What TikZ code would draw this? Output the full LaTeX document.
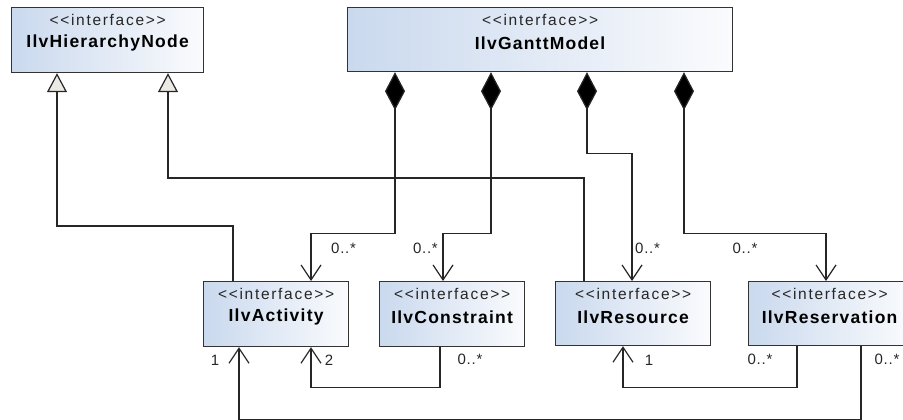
\documentclass[tikz,border=0pt]{standalone}
\usepackage{fontspec}
\setmainfont{Liberation Sans}
\usetikzlibrary{arrows.meta,calc}

\definecolor{ifaceblue}{RGB}{202,217,238}
\definecolor{ifacewhite}{RGB}{250,251,253}
\definecolor{genfill}{RGB}{236,234,228}

\tikzset{
  iface/.style={draw=black!80, line width=1.2pt, anchor=north west, inner sep=0pt,
    left color=ifaceblue, right color=ifacewhite},
  stereo/.style={font=\fontsize{15.5}{15.5}\selectfont\addfontfeature{LetterSpace=11},
    text=black!85, inner sep=0pt},
  cname/.style={font=\fontsize{17.5}{17.5}\selectfont\bfseries\addfontfeature{LetterSpace=7},
    inner sep=0pt},
  mult/.style={font=\fontsize{15}{15}\selectfont\addfontfeature{LetterSpace=5},
    text=black!85, inner sep=0pt},
  conn/.style={draw=black!85, line width=1.2pt},
  comp/.style={conn, {Diamond[length=38pt,width=20pt,fill=black]}-{Straight Barb[length=15pt,width=20pt,line width=1.2pt]}},
  assoc/.style={conn, -{Straight Barb[length=15pt,width=20pt,line width=1.2pt]}},
  gen/.style={conn, -{Triangle[length=19pt,width=20pt,fill=genfill,line width=1.2pt]}},
}

\begin{document}
\begin{tikzpicture}[x=1pt,y=-1pt]
\useasboundingbox (0,0) rectangle (903,420);
\begin{scope}
\clip (0,0) rectangle (903,420);

% interface boxes
\node[iface, minimum width=192pt, minimum height=65pt] (hier) at (11,7) {};
\node[iface, minimum width=385pt, minimum height=64pt] (gantt) at (347,7) {};
\node[iface, minimum width=145pt, minimum height=65pt] (act) at (203,281) {};
\node[iface, minimum width=145pt, minimum height=65pt] (cons) at (379,281) {};
\node[iface, minimum width=155pt, minimum height=64pt] (res) at (555,281) {};
\node[iface, minimum width=162pt, minimum height=64pt] (resv) at (748,281) {};

% stereotypes and names
\foreach \b/\n in {hier/IlvHierarchyNode, gantt/IlvGanttModel, act/IlvActivity,
                   cons/IlvConstraint, res/IlvResource, resv/IlvReservation}{
  \node[stereo] (\b-st) at ($(\b.north)+(0,13)$) {<{}<interface>{}>};
  \node[cname] (\b-nm) at ($(\b.north)+(0,36)$) {\n};
}

% compositions from IlvGanttModel
\draw[comp] ([xshift=48pt]gantt.south west) -- ++(0,161) -| ([xshift=108pt]act.north west);
\draw[comp] ([xshift=144pt]gantt.south west) -- ++(0,161) -| ([xshift=64pt]cons.north west);
\draw[comp] ([xshift=240pt]gantt.south west) -- ++(0,81) -| ([xshift=77pt]res.north west);
\draw[comp] ([xshift=337pt]gantt.south west) -- ++(0,161) -| ([xshift=78pt]resv.north west);

% generalizations to IlvHierarchyNode
\draw[gen] ([xshift=30pt]act.north west) -- ++(0,-55) -| ([xshift=46pt]hier.south west);
\draw[gen] ([xshift=29pt]res.north west) -- ++(0,-103) -| ([xshift=157pt]hier.south west);

% associations along the bottom
\draw[assoc] ([xshift=61pt]cons.south west) -- ++(0,40) -| ([xshift=108pt]act.south west);
\draw[assoc] ([xshift=113pt]resv.south west) -- ++(0,73) -| ([xshift=36pt]act.south west);
\draw[assoc] ([xshift=49pt]resv.south west) -- ++(0,41) -| ([xshift=68pt]res.south west);

% multiplicities
\node[mult, anchor=west] (m1) at (331,248) {0..*};
\node[mult, anchor=east] (m2) at (438,248) {0..*};
\node[mult, anchor=west] (m3) at (635,248) {0..*};
\node[mult] (m4) at (745,248) {0..*};
\node[mult] (m5) at (215,360) {1};
\node[mult] (m6) at (329,360) {2};
\node[mult] (m7) at (470,359) {0..*};
\node[mult] (m8) at (649,360) {1};
\node[mult] (m9) at (760,359) {0..*};
\node[mult] (m10) at (887,359) {0..*};
\end{scope}
\end{tikzpicture}
\end{document}
